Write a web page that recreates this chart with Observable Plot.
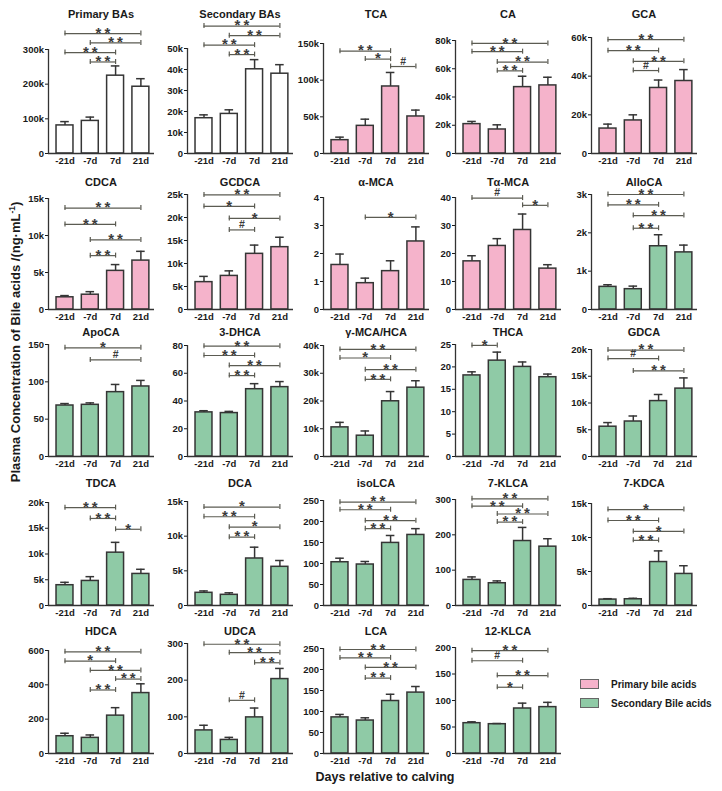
<!DOCTYPE html>
<html><head><meta charset="utf-8">
<script src="https://cdn.jsdelivr.net/npm/d3@7"></script>
<script src="https://cdn.jsdelivr.net/npm/@observablehq/plot@0.6"></script>
<style>
body{margin:0;background:#fff;}
#root{position:relative;width:722px;height:791px;overflow:hidden;font-family:"Liberation Sans",Arial,sans-serif;font-weight:bold;color:#1a1a1a;background:#fff;}
.ttl{position:absolute;font-size:11px;white-space:nowrap;transform:translate(-50%,-50%);}
.ytitle{position:absolute;font-size:13px;white-space:nowrap;transform:translate(-50%,-50%) rotate(-90deg);}
.xtitle{position:absolute;font-size:12.5px;white-space:nowrap;transform:translate(-50%,-50%);}
.sw{position:absolute;width:19px;height:10px;border:1px solid #666;box-sizing:border-box;}
.lt{position:absolute;font-size:10px;white-space:nowrap;transform:translateY(-50%);}
sup{font-size:0.65em;}
</style></head><body><div id="root"></div>
<script>
// ---------- data ----------
const days = ["-21d", "-7d", "7d", "21d"];
const titles = ["Primary BAs","Secondary BAs","TCA","CA","GCA","CDCA","GCDCA","α-MCA","Tα-MCA","AlloCA",
  "ApoCA","3-DHCA","γ-MCA/HCA","THCA","GDCA","TDCA","DCA","isoLCA","7-KLCA","7-KDCA","HDCA","UDCA","LCA","12-KLCA"];
const groups = ["total","total","primary","primary","primary","primary","primary","primary","primary","secondary",
  "secondary","secondary","secondary","secondary","secondary","secondary","secondary","secondary","secondary","secondary",
  "secondary","secondary","secondary","secondary"];
const legendLabels = ["Primary bile acids", "Secondary Bile acids"];

const meanPrimaryBAs = [81000, 94000, 224500, 192600], semPrimaryBAs = [11000, 11000, 28100, 23200];
const ticksPrimaryBAs = [0, 100000, 200000, 300000];
const sigPrimaryBAs = [["-21d","21d","**",346000],["-7d","21d","**",319000],["-21d","7d","**",291000],["-7d","7d","**",264000]];

const meanSecondaryBAs = [16800, 18850, 40100, 38000], semSecondaryBAs = [1600, 1950, 4600, 4300];
const ticksSecondaryBAs = [0, 10000, 20000, 30000, 40000, 50000];
const sigSecondaryBAs = [["-21d","21d","**",60700],["-7d","21d","**",56100],["-21d","7d","**",51600],["-7d","7d","**",47100]];

const meanTCA = [18200, 37700, 91400, 50500], semTCA = [4100, 9100, 19100, 8700];
const ticksTCA = [0, 50000, 100000, 150000];
const sigTCA = [["-21d","7d","**",139600],["-7d","7d","*",128700],["7d","21d","#",118600]];

const meanCA = [20800, 17000, 47000, 48200], semCA = [1900, 3300, 7700, 5800];
const ticksCA = [0, 20000, 40000, 60000, 80000];
const sigCA = [["-21d","21d","**",77900],["-21d","7d","**",72100],["-7d","21d","**",64700],["-7d","7d","**",58500]];

const meanGCA = [12900, 17100, 33900, 37500], semGCA = [2300, 2900, 4100, 5900];
const ticksGCA = [0, 20000, 40000, 60000];
const sigGCA = [["-21d","21d","**",58900],["-21d","7d","**",53200],["-7d","21d","**",47700],["-7d","7d","#",42900]];

const meanCDCA = [1650, 2000, 5220, 6610], semCDCA = [230, 410, 850, 1250];
const ticksCDCA = [0, 5000, 10000, 15000];
const sigCDCA = [["-21d","21d","**",13700],["-21d","7d","**",11500],["-7d","21d","**",9400],["-7d","7d","**",7280]];

const meanGCDCA = [5950, 7300, 12100, 13550], semGCDCA = [1250, 1100, 1900, 2150];
const ticksGCDCA = [0, 5000, 10000, 15000, 20000, 25000];
const sigGCDCA = [["-21d","21d","**",24900],["-21d","7d","*",22400],["-7d","21d","*",19800],["-7d","7d","#",17300]];

const meanAMCA = [1.59, 0.94, 1.37, 2.43], semAMCA = [0.39, 0.18, 0.37, 0.52];
const ticksAMCA = [0, 1, 2, 3, 4];
const sigAMCA = [["-7d","21d","*",3.29]];

const meanTAMCA = [17.2, 22.7, 28.4, 14.6], semTAMCA = [2.0, 2.6, 5.7, 1.4];
const ticksTAMCA = [0, 10, 20, 30, 40];
const sigTAMCA = [["-21d","7d","#",39.8],["7d","21d","*",37.2]];

const meanAlloCA = [590, 530, 1650, 1490], semAlloCA = [55, 80, 300, 190];
const ticksAlloCA = [0, 1000, 2000, 3000];
const sigAlloCA = [["-21d","21d","**",3000],["-21d","7d","**",2730],["-7d","21d","**",2450],["-7d","7d","**",2120]];

const meanApoCA = [68.3, 69.2, 86.2, 93.8], semApoCA = [2.6, 2.6, 10.3, 8.1];
const ticksApoCA = [0, 50, 100, 150];
const sigApoCA = [["-21d","21d","*",145.5],["-7d","21d","#",129.3]];

const meanDHCA = [31.8, 31.3, 48.5, 50.0], semDHCA = [1.2, 1.2, 4.0, 4.0];
const ticksDHCA = [0, 20, 40, 60, 80];
const sigDHCA = [["-21d","21d","**",79.5],["-21d","7d","**",72.8],["-7d","21d","**",65.5],["-7d","7d","**",58.3]];

const meanGMCA = [10500, 7500, 19900, 24800], semGMCA = [1800, 1700, 3500, 2500];
const ticksGMCA = [0, 10000, 20000, 30000, 40000];
const sigGMCA = [["-21d","21d","**",38600],["-21d","7d","*",35500],["-7d","21d","**",31300],["-7d","7d","**",27800]];

const meanTHCA = [18.1, 21.4, 20.0, 17.7], semTHCA = [0.8, 1.9, 1.1, 0.7];
const ticksTHCA = [0, 5, 10, 15, 20, 25];
const sigTHCA = [["-21d","-7d","*",24.8]];

const meanGDCA = [5570, 6540, 10360, 12690], semGDCA = [770, 1030, 1230, 2000];
const ticksGDCA = [0, 5000, 10000, 15000, 20000];
const sigGDCA = [["-21d","21d","**",19900],["-21d","7d","#",18300],["-7d","21d","**",16000]];

const meanTDCA = [3940, 4770, 10260, 6130], semTDCA = [560, 830, 2000, 900];
const ticksTDCA = [0, 5000, 10000, 15000, 20000];
const sigTDCA = [["-21d","7d","**",19000],["-7d","7d","**",16900],["7d","21d","*",14800]];

const meanDCA = [1830, 1540, 6780, 5580], semDCA = [270, 290, 1630, 910];
const ticksDCA = [0, 5000, 10000, 15000];
const sigDCA = [["-21d","21d","*",14200],["-21d","7d","**",12800],["-7d","21d","*",11300],["-7d","7d","**",9860]];

const meanIsoLCA = [103, 97.6, 149, 168], semIsoLCA = [9.6, 7.2, 17.7, 15];
const ticksIsoLCA = [0, 50, 100, 150, 200, 250];
const sigIsoLCA = [["-21d","21d","**",246],["-21d","7d","**",228],["-7d","21d","**",202],["-7d","7d","**",183]];

const meanKLCA7 = [72.4, 63, 182.5, 166.5], semKLCA7 = [8.5, 6.6, 38.5, 22.5];
const ticksKLCA7 = [0, 100, 200, 300];
const sigKLCA7 = [["-21d","21d","**",302],["-21d","7d","**",281],["-7d","21d","**",259],["-7d","7d","**",236]];

const meanKDCA7 = [870, 920, 6390, 4640], semKDCA7 = [130, 140, 1640, 1210];
const ticksKDCA7 = [0, 5000, 10000, 15000];
const sigKDCA7 = [["-21d","21d","*",14100],["-21d","7d","**",12500],["-7d","21d","*",10900],["-7d","7d","**",9580]];

const meanHDCA = [100.6, 91, 220.6, 352], semHDCA = [17.4, 17, 46.4, 54];
const ticksHDCA = [0, 200, 400, 600];
const sigHDCA = [["-21d","21d","**",592],["-21d","7d","*",538],["-7d","21d","**",484],["7d","21d","**",433.5],["-7d","7d","**",370]];

const meanUDCA = [63, 37, 98.5, 203], semUDCA = [14, 7, 25.5, 29];
const ticksUDCA = [0, 100, 200, 300];
const sigUDCA = [["-21d","21d","**",298],["-7d","21d","**",275],["7d","21d","**",247.5],["-7d","7d","#",145]];

const meanLCA = [86, 78.5, 125, 145], semLCA = [7, 6.5, 16, 14.5];
const ticksLCA = [0, 50, 100, 150, 200, 250];
const sigLCA = [["-21d","21d","**",247.6],["-21d","7d","**",227.6],["-7d","21d","**",205],["-7d","7d","**",179.5]];

const meanKLCA12 = [57.2, 55.3, 84.9, 87.5], semKLCA12 = [2.6, 1.3, 10.1, 9];
const ticksKLCA12 = [0, 50, 100, 150, 200];
const sigKLCA12 = [["-21d","21d","**",194],["-21d","7d","#",175],["-7d","21d","**",147],["-7d","7d","*",125]];

// table built from the arrays
const means = [meanPrimaryBAs, meanSecondaryBAs, meanTCA, meanCA, meanGCA, meanCDCA, meanGCDCA, meanAMCA, meanTAMCA, meanAlloCA,
  meanApoCA, meanDHCA, meanGMCA, meanTHCA, meanGDCA, meanTDCA, meanDCA, meanIsoLCA, meanKLCA7, meanKDCA7, meanHDCA, meanUDCA, meanLCA, meanKLCA12];
const sems = [semPrimaryBAs, semSecondaryBAs, semTCA, semCA, semGCA, semCDCA, semGCDCA, semAMCA, semTAMCA, semAlloCA,
  semApoCA, semDHCA, semGMCA, semTHCA, semGDCA, semTDCA, semDCA, semIsoLCA, semKLCA7, semKDCA7, semHDCA, semUDCA, semLCA, semKLCA12];
const sigs = [sigPrimaryBAs, sigSecondaryBAs, sigTCA, sigCA, sigGCA, sigCDCA, sigGCDCA, sigAMCA, sigTAMCA, sigAlloCA,
  sigApoCA, sigDHCA, sigGMCA, sigTHCA, sigGDCA, sigTDCA, sigDCA, sigIsoLCA, sigKLCA7, sigKDCA7, sigHDCA, sigUDCA, sigLCA, sigKLCA12];
const tickSets = [ticksPrimaryBAs, ticksSecondaryBAs, ticksTCA, ticksCA, ticksGCA, ticksCDCA, ticksGCDCA, ticksAMCA, ticksTAMCA, ticksAlloCA,
  ticksApoCA, ticksDHCA, ticksGMCA, ticksTHCA, ticksGDCA, ticksTDCA, ticksDCA, ticksIsoLCA, ticksKLCA7, ticksKDCA7, ticksHDCA, ticksUDCA, ticksLCA, ticksKLCA12];

// ---------- layout / style ----------
const colAxisX = [48, 187, 323, 455, 591];
const rowTitleY = [14, 182, 332, 483, 631];
const rowZeroY = [153, 309, 456, 605, 753];
const panelTopY = [49, 48, 43, 40, 37, 198, 194, 197, 197, 194, 344, 345, 345, 344, 349, 502, 501, 500, 499, 503, 650, 643, 648, 647];
const W = 106, ML = 44, MR = 8, MB = 24;
const xDomain = [-0.652, 3.538];
const halfBar = 0.335, halfCap = 0.17;
const fills = {total: "#ffffff", primary: "#f5b3cb", secondary: "#8fcaa6"};
const ink = "#353535", sigInk = "#5b5b52";
const fmt = v => v >= 1000 ? (v / 1000) + "k" : String(v);

const root = document.getElementById("root");

titles.forEach((title, k) => {
  const col = k % 5, row = Math.floor(k / 5);
  const svgTop = rowTitleY[row] + 8;
  const zeroY = rowZeroY[row];
  const topY = panelTopY[k];
  const ticks = tickSets[k];
  const ymax = ticks[ticks.length - 1];
  const bars = days.map((d, i) => ({i, mean: means[k][i], top: means[k][i] + sems[k][i]}));
  const sig = sigs[k].map(([a, b, label, level]) => ({a: days.indexOf(a), b: days.indexOf(b), label, level}));
  const ends = sig.flatMap(s => [{x: s.a, level: s.level}, {x: s.b, level: s.level}]);
  const stars = sig.filter(s => s.label !== "#").map(s => ({...s, txt: s.label.split("").join("\u2009")}));
  const hashes = sig.filter(s => s.label === "#");
  const chart = Plot.plot({
    width: ML + W + MR, height: zeroY + MB - svgTop,
    marginLeft: ML, marginRight: MR, marginTop: topY - svgTop, marginBottom: MB,
    style: {background: "transparent", overflow: "visible", fontFamily: "'Liberation Sans', Arial, sans-serif",
      fontSize: "9.5px", fontWeight: "bold", color: "#1a1a1a"},
    x: {type: "linear", domain: xDomain, ticks: [0, 1, 2, 3], tickFormat: i => days[i], tickSize: 0, tickPadding: 4, label: null},
    y: {domain: [0, ymax], ticks: ticks, tickFormat: fmt, tickSize: 3, tickPadding: 1.5, label: null},
    marks: [
      Plot.rectY(bars, {x1: d => d.i - halfBar, x2: d => d.i + halfBar, y1: 0, y2: "mean", fill: fills[groups[k]], stroke: ink, strokeWidth: 1.5}),
      Plot.ruleX(bars, {x: "i", y1: "mean", y2: "top", stroke: ink, strokeWidth: 1.5}),
      Plot.ruleY(bars, {x1: d => d.i - halfCap, x2: d => d.i + halfCap, y: "top", stroke: ink, strokeWidth: 1.5}),
      Plot.ruleX([{x: xDomain[0]}], {x: "x", y1: 0, y2: ymax, stroke: "#333", strokeWidth: 1.3}),
      Plot.ruleY([0], {stroke: "#333", strokeWidth: 1.3}),
      Plot.ruleY(sig, {x1: "a", x2: "b", y: "level", stroke: sigInk, strokeWidth: 1.2}),
      Plot.ruleX(ends, {x: "x", y1: "level", y2: "level", insetTop: -2.5, insetBottom: -2.5, stroke: sigInk, strokeWidth: 1.2}),
      Plot.text(stars, {x: d => (d.a + d.b) / 2, y: "level", text: "txt", fontSize: 15, dy: -0.5, fill: "#3c3c3c"}),
      Plot.text(hashes, {x: d => (d.a + d.b) / 2, y: "level", text: "label", fontSize: 10.5, dy: -5, fill: "#3c3c3c"})
    ]
  });
  chart.style.position = "absolute";
  chart.style.left = (colAxisX[col] - ML) + "px";
  chart.style.top = svgTop + "px";
  root.appendChild(chart);

  const t = document.createElement("div");
  t.className = "ttl";
  t.textContent = title;
  t.style.left = (colAxisX[col] + W / 2) + "px";
  t.style.top = rowTitleY[row] + "px";
  root.appendChild(t);
});

// axis titles
const yt = document.createElement("div");
yt.className = "ytitle";
yt.innerHTML = "Plasma Concentration of Bile acids /(ng·mL<sup>-1</sup>)";
yt.style.left = "15px"; yt.style.top = "342px";
root.appendChild(yt);

const xt = document.createElement("div");
xt.className = "xtitle";
xt.textContent = "Days relative to calving";
xt.style.left = "385px"; xt.style.top = "777px";
root.appendChild(xt);

// legend
[["primary", 684], ["secondary", 703]].forEach(([g, y], j) => {
  const s = document.createElement("div");
  s.className = "sw";
  s.style.background = fills[g];
  s.style.left = "580px"; s.style.top = (y - 5) + "px";
  root.appendChild(s);
  const l = document.createElement("div");
  l.className = "lt";
  l.textContent = legendLabels[j];
  l.style.left = "611px"; l.style.top = y + "px";
  root.appendChild(l);
});
</script></body></html>
